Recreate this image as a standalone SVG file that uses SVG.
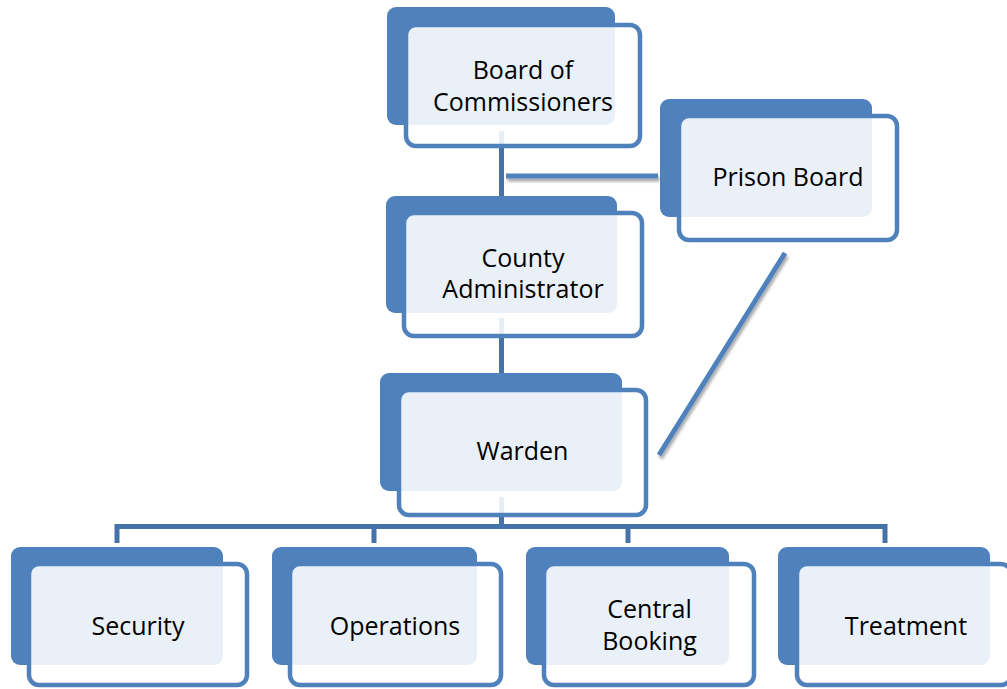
<svg xmlns="http://www.w3.org/2000/svg" width="1007" height="689" viewBox="0 0 1007 689">
<style>
.back{fill:#4F81BD;}
.front{fill:#FFFFFF;fill-opacity:0.88;stroke:#4F81BD;stroke-width:4.5;}
.lbl{font-family:"Open Sans","Noto Sans","Liberation Sans",sans-serif;font-size:25px;fill:#000;text-anchor:middle;}
.tree{stroke:#4672AA;stroke-width:5;fill:none;}
.link{stroke:#4F81BD;stroke-width:5;fill:none;}
</style>
<defs>
<filter id="sh" filterUnits="userSpaceOnUse" x="0" y="0" width="1007" height="689">
<feDropShadow dx="1.5" dy="3" stdDeviation="1.6" flood-color="#000" flood-opacity="0.35"/>
</filter>
</defs>
<rect width="1007" height="689" fill="#FFFFFF"/>
<g id="connectors">
<line class="tree" x1="501.5" y1="131" x2="501.5" y2="197"/>
<line class="tree" x1="501.5" y1="318" x2="501.5" y2="374"/>
<line class="tree" x1="501.5" y1="497" x2="501.5" y2="526"/>
<polyline class="tree" points="117,543 117,526.5 885,526.5 885,543"/>
<line class="tree" x1="374" y1="526" x2="374" y2="543"/>
<line class="tree" x1="628" y1="526" x2="628" y2="543"/>
<line class="link" filter="url(#sh)" x1="506" y1="176" x2="658" y2="176"/>
<line class="link" filter="url(#sh)" x1="785" y1="253" x2="659" y2="455"/>
</g>
<g id="board">
<rect class="back" x="387" y="7" width="228" height="118" rx="9"/>
<rect class="front" x="406" y="25" width="234" height="121" rx="10"/>
<text class="lbl" x="523" y="79">Board of</text>
<text class="lbl" x="523" y="111">Commissioners</text>
</g>
<g id="prison">
<rect class="back" x="660" y="99" width="212" height="118" rx="9"/>
<rect class="front" x="679" y="116" width="218" height="124" rx="10"/>
<text class="lbl" x="788" y="186">Prison Board</text>
</g>
<g id="county">
<rect class="back" x="386" y="196" width="231" height="117" rx="9"/>
<rect class="front" x="404" y="213" width="238" height="123" rx="10"/>
<text class="lbl" x="523" y="267">County</text>
<text class="lbl" x="523" y="298">Administrator</text>
</g>
<g id="warden">
<rect class="back" x="380" y="373" width="242" height="118" rx="9"/>
<rect class="front" x="399" y="390" width="247" height="125" rx="10"/>
<text class="lbl" x="522.5" y="460">Warden</text>
</g>
<g id="security">
<rect class="back" x="11" y="547" width="212" height="118" rx="9"/>
<rect class="front" x="29" y="564" width="218" height="121" rx="10"/>
<text class="lbl" x="138" y="635">Security</text>
</g>
<g id="operations">
<rect class="back" x="272" y="547" width="205" height="118" rx="9"/>
<rect class="front" x="290" y="564" width="211" height="121" rx="10"/>
<text class="lbl" x="395" y="635">Operations</text>
</g>
<g id="booking">
<rect class="back" x="526" y="547" width="203" height="118" rx="9"/>
<rect class="front" x="544" y="564" width="210" height="121" rx="10"/>
<text class="lbl" x="649.5" y="618">Central</text>
<text class="lbl" x="649.5" y="650">Booking</text>
</g>
<g id="treatment">
<rect class="back" x="778" y="547" width="212" height="118" rx="9"/>
<rect class="front" x="797" y="564" width="214" height="121" rx="10"/>
<text class="lbl" x="906" y="635">Treatment</text>
</g>
</svg>
